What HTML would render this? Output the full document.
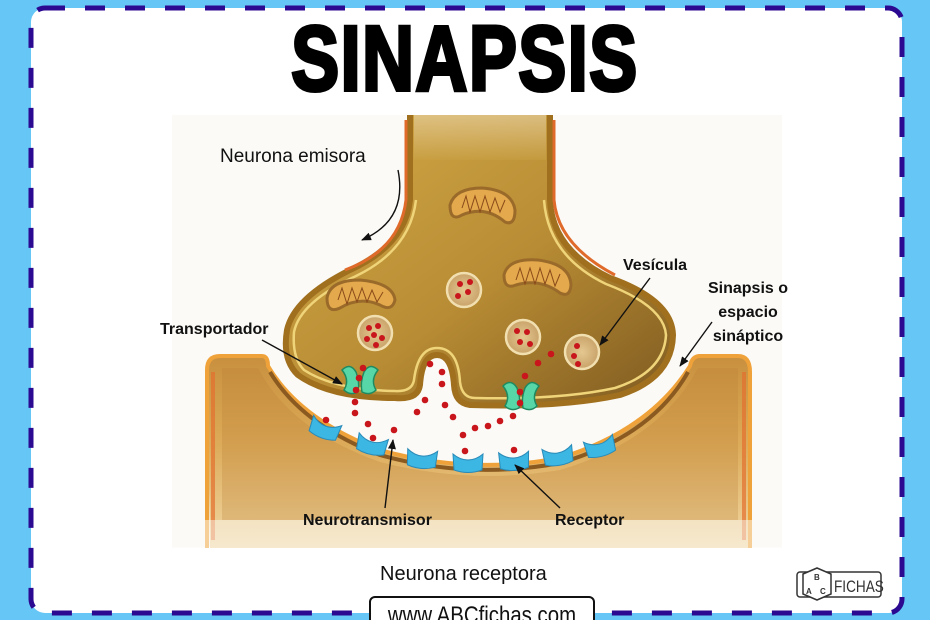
<!DOCTYPE html>
<html><head><meta charset="utf-8"><style>
html,body{margin:0;padding:0;background:#66c6f6;width:930px;height:620px;overflow:hidden}
svg{display:block}
text{font-family:"Liberation Sans",sans-serif}
</style></head><body>
<svg width="930" height="620" viewBox="0 0 930 620" xmlns="http://www.w3.org/2000/svg">
<defs>
<linearGradient id="bulb" x1="0" y1="0" x2="1" y2="1">
<stop offset="0" stop-color="#d3aa48"/><stop offset="0.55" stop-color="#b88c34"/><stop offset="1" stop-color="#7e5a20"/>
</linearGradient>
<linearGradient id="post" x1="0" y1="0" x2="0" y2="1">
<stop offset="0" stop-color="#c8903e"/><stop offset="0.45" stop-color="#dcaa58"/><stop offset="1" stop-color="#f1d8a4"/>
</linearGradient>
<linearGradient id="stem" x1="0" y1="0" x2="0" y2="1">
<stop offset="0" stop-color="#f2e2c2"/><stop offset="1" stop-color="#c9a042"/>
</linearGradient>
<radialGradient id="ves" cx="0.5" cy="0.5" r="0.5">
<stop offset="0" stop-color="#e4c890"/><stop offset="1" stop-color="#c9a36a"/>
</radialGradient>
<marker id="ar" markerWidth="10" markerHeight="8" refX="9" refY="4" orient="auto" markerUnits="userSpaceOnUse">
<path d="M0,0 L10,4 L0,8 z" fill="#111"/>
</marker>
<path id="rc" d="M-15,-8 Q-8,-2 0,-2 Q8,-2 15,-8 L14,8 Q0,13 -14,8 Z"/>
</defs>
<rect x="31" y="8" width="871" height="605" rx="14" fill="#fff"/>
<rect x="31" y="8" width="871" height="605" rx="14" fill="none" stroke="#2c0991" stroke-width="5" stroke-dasharray="20 20"/>
<rect x="172" y="115" width="610" height="432" fill="#fbfaf6"/>
<text x="465" y="90" text-anchor="middle" font-size="92" font-weight="bold" fill="#000" stroke="#000" stroke-width="4" transform="translate(465 0) scale(0.78 1) translate(-465 0)" letter-spacing="2">SINAPSIS</text>

<!-- postsynaptic -->
<path d="M207,370 Q207,356 220,356 L262,356 Q268,356 268,366 Q300,420 380,450 Q470,475 560,458 Q650,430 690,366 Q692,356 700,356 L738,356 Q750,356 750,372 L748,548 L210,548 Z" fill="url(#post)"/>
<path d="M207,548 L207,370 Q207,356 220,356 L262,356 Q268,356 268,366 Q300,420 380,450 Q470,475 560,458 Q650,430 690,366 Q692,356 700,356 L738,356 Q750,356 750,372 L750,548" fill="none" stroke="#f0a23a" stroke-width="4"/>
<path d="M213,372 L213,540" stroke="#e4702e" stroke-width="4" opacity="0.7"/>
<path d="M744,372 L744,540" stroke="#e4702e" stroke-width="4" opacity="0.7"/>
<path d="M222,368 L258,368 Q290,430 380,462 Q470,485 560,470 Q660,440 698,368 L738,368 L738,520 L222,520 Z" fill="#b87a32" opacity="0.25"/>
<path d="M270,372 Q302,425 380,455 Q470,480 560,463 Q652,436 688,372" fill="none" stroke="#8a5a20" stroke-width="4"/>
<rect x="172" y="520" width="610" height="28" fill="#fbfaf6" opacity="0.5"/>

<!-- presynaptic -->
<path d="M410,115 L550,115 L550,200 Q552,250 610,278 Q672,300 673,335 Q672,378 620,395 Q560,408 470,405 Q455,403 454,385 Q452,355 437,355 Q422,355 420,385 Q418,400 395,398 Q330,398 298,375 Q282,360 287,330 Q294,298 350,270 Q405,245 410,200 Z" fill="url(#bulb)"/>
<path d="M410,115 L410,200 Q405,245 350,270 Q294,298 287,330 Q282,360 298,375 Q330,398 395,398 Q418,400 420,385 Q422,355 437,355 Q452,355 454,385 Q455,403 470,405 Q560,408 620,395 Q672,378 673,335 Q672,300 610,278 Q552,250 550,200 L550,115" fill="none" stroke="#a0701f" stroke-width="6"/>
<path d="M406,120 L406,200 Q400,250 345,270" fill="none" stroke="#e06a2a" stroke-width="3"/>
<path d="M554,120 L554,200 Q558,245 615,275" fill="none" stroke="#e06a2a" stroke-width="3"/>
<path d="M414,115 L546,115 L546,160 L414,160 Z" fill="url(#stem)" opacity="0.5"/>
<path d="M416,200 Q410,250 356,276 Q300,302 294,332 Q292,358 304,370 Q335,390 395,391 Q412,392 414,380 Q418,348 437,348 Q458,348 460,382 Q462,398 475,398 Q560,400 615,388 Q664,372 666,335 Q664,306 606,284 Q548,256 544,200" fill="none" stroke="#efd47a" stroke-width="2.5"/>

<g stroke="#9a6a2a" stroke-width="3" fill="#e3a94c">
<path d="M450,205 Q455,188 482,188 Q512,190 515,210 Q515,226 505,222 Q485,205 462,215 Q450,222 450,205 Z"/>
<path d="M504,275 Q508,258 538,260 Q570,264 571,285 Q570,298 560,293 Q540,278 516,285 Q504,290 504,275 Z"/>
<path d="M327,298 Q330,280 360,280 Q393,283 395,300 Q392,312 380,305 Q360,296 340,308 Q327,314 327,298 Z"/>
</g>
<g stroke="#8a4a1a" stroke-width="1" fill="none">
<path d="M462,208 L466,196 L470,212 L475,196 L480,212 L485,196 L490,212 L495,198 L500,212 L505,200"/>
<path d="M516,280 L520,268 L525,284 L530,268 L535,284 L540,268 L545,284 L550,270 L555,286 L560,274"/>
<path d="M338,300 L342,288 L347,304 L352,288 L357,302 L362,288 L367,302 L372,290 L377,302 L383,292"/>
</g>
<g stroke="#f1dfb0" stroke-width="2.5" fill="url(#ves)">
<circle cx="464" cy="290" r="17"/><circle cx="375" cy="333" r="17"/><circle cx="523" cy="337" r="17"/><circle cx="582" cy="352" r="17"/>
</g>
<g fill="#c8161c">
<circle cx="460" cy="284" r="3"/><circle cx="468" cy="292" r="3"/><circle cx="458" cy="296" r="3"/><circle cx="470" cy="282" r="3"/>
<circle cx="369" cy="328" r="3"/><circle cx="378" cy="326" r="3"/><circle cx="374" cy="335" r="3"/><circle cx="367" cy="339" r="3"/><circle cx="382" cy="338" r="3"/><circle cx="376" cy="345" r="3"/>
<circle cx="517" cy="331" r="3"/><circle cx="527" cy="332" r="3"/><circle cx="520" cy="342" r="3"/><circle cx="530" cy="344" r="3"/>
<circle cx="577" cy="346" r="3"/><circle cx="574" cy="356" r="3"/><circle cx="578" cy="364" r="3"/>
</g>
<g fill="#57d6a8" stroke="#1f8a60" stroke-width="1.5">
<path d="M342,370 Q350,362 356,372 Q360,382 358,392 Q350,396 344,390 Q350,380 342,370 Z"/>
<path d="M378,370 Q370,362 364,372 Q360,382 362,392 Q370,396 376,390 Q370,380 378,370 Z"/>
<path d="M503,386 Q511,378 517,388 Q521,398 519,408 Q511,412 505,406 Q511,396 503,386 Z"/>
<path d="M539,386 Q531,378 525,388 Q521,398 523,408 Q531,412 537,406 Q531,396 539,386 Z"/>
</g>
<g fill="#3cb6e2" stroke="#2a8ab8" stroke-width="1">
<use href="#rc" transform="translate(325 428) rotate(20)"/>
<use href="#rc" transform="translate(372 444) rotate(13)"/>
<use href="#rc" transform="translate(422 458) rotate(5)"/>
<use href="#rc" transform="translate(468 462)"/>
<use href="#rc" transform="translate(514 460) rotate(-3)"/>
<use href="#rc" transform="translate(558 455) rotate(-9)"/>
<use href="#rc" transform="translate(600 446) rotate(-15)"/>
</g>
<g fill="#c8161c">
<circle cx="363" cy="368" r="3.3"/><circle cx="359" cy="378" r="3.3"/><circle cx="356" cy="390" r="3.3"/><circle cx="355" cy="402" r="3.3"/><circle cx="355" cy="413" r="3.3"/><circle cx="368" cy="424" r="3.3"/><circle cx="373" cy="438" r="3.3"/><circle cx="326" cy="420" r="3.3"/><circle cx="394" cy="430" r="3.3"/>
<circle cx="430" cy="364" r="3.3"/><circle cx="442" cy="372" r="3.3"/><circle cx="442" cy="384" r="3.3"/><circle cx="425" cy="400" r="3.3"/><circle cx="445" cy="405" r="3.3"/><circle cx="417" cy="412" r="3.3"/><circle cx="453" cy="417" r="3.3"/><circle cx="463" cy="435" r="3.3"/><circle cx="465" cy="451" r="3.3"/><circle cx="475" cy="428" r="3.3"/><circle cx="488" cy="426" r="3.3"/><circle cx="500" cy="421" r="3.3"/><circle cx="513" cy="416" r="3.3"/><circle cx="520" cy="403" r="3.3"/><circle cx="520" cy="392" r="3.3"/><circle cx="525" cy="376" r="3.3"/><circle cx="538" cy="363" r="3.3"/><circle cx="551" cy="354" r="3.3"/><circle cx="514" cy="450" r="3.3"/>
</g>

<g font-size="19" fill="#111">
<text x="220" y="162">Neurona emisora</text>
<text x="380" y="580" font-size="20">Neurona receptora</text>
</g>
<g font-size="16" font-weight="bold" fill="#111">
<text x="160" y="334">Transportador</text>
<text x="623" y="270">Vesícula</text>
<text x="748" y="293" text-anchor="middle">Sinapsis o</text>
<text x="748" y="317" text-anchor="middle">espacio</text>
<text x="748" y="341" text-anchor="middle">sináptico</text>
<text x="303" y="525">Neurotransmisor</text>
<text x="555" y="525">Receptor</text>
</g>
<g stroke="#111" stroke-width="1.4" fill="none" marker-end="url(#ar)">
<path d="M398,170 Q408,220 362,240"/>
<path d="M650,278 L600,345"/>
<path d="M712,322 L680,366"/>
<path d="M262,340 L342,384"/>
<path d="M385,508 L393,440"/>
<path d="M560,508 L515,465"/>
</g>

<g>
<rect x="797" y="572" width="84" height="25" rx="3" fill="#fff" stroke="#333" stroke-width="1.5"/>
<path d="M803,574 L817,568 L831,574 L831,594 L817,600 L803,594 Z" fill="#fff" stroke="#333" stroke-width="1.5"/>
<text x="814" y="580" font-size="8" font-weight="bold" fill="#333">B</text>
<text x="806" y="594" font-size="8" font-weight="bold" fill="#333">A</text>
<text x="820" y="594" font-size="8" font-weight="bold" fill="#333">C</text>
<text x="834" y="592" font-size="17" fill="#333" transform="translate(834 0) scale(0.8 1) translate(-834 0)">FICHAS</text>
</g>
<rect x="370" y="597" width="224" height="30" rx="5" fill="#fff" stroke="#111" stroke-width="2"/>
<text x="482" y="623" text-anchor="middle" font-size="24" fill="#111" transform="translate(482 0) scale(0.85 1) translate(-482 0)">www.ABCfichas.com</text>
</svg>
</body></html>
